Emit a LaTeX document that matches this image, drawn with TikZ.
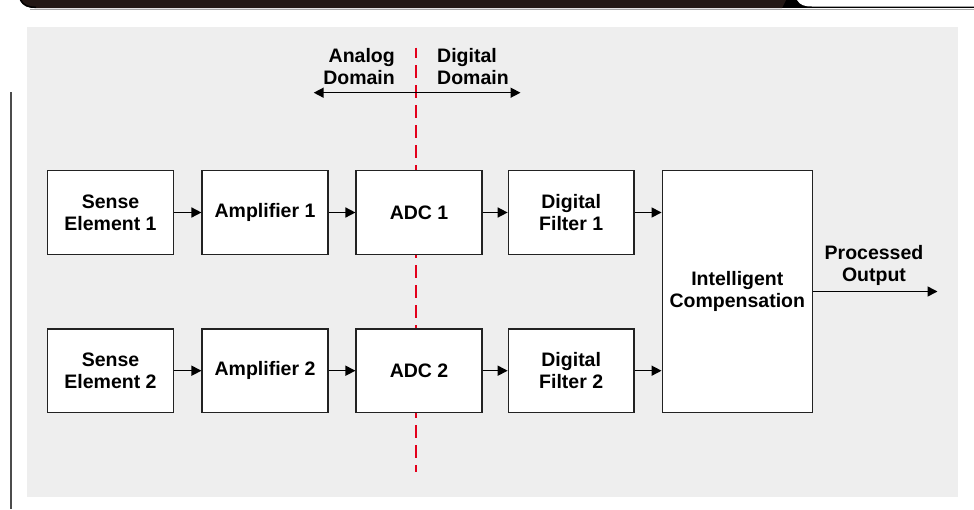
\documentclass[tikz,border=0pt]{standalone}
\usepackage{fontspec}
\setmainfont{Liberation Sans}
\usetikzlibrary{arrows.meta}
\definecolor{bgray}{HTML}{EEEEEE}
\definecolor{topbar}{HTML}{231815}
\definecolor{redline}{HTML}{E3001B}
\definecolor{boxline}{HTML}{222222}
\begin{document}
\begin{tikzpicture}[x=1pt,y=-1pt,
  txt/.style={font=\fontsize{19.5}{22}\selectfont\bfseries},
  blk/.style={txt,draw=boxline,line width=1.5pt,fill=white,minimum width=125.6pt,minimum height=83.6pt,inner sep=0pt,align=center},
  lbl/.style={txt,inner sep=0pt},
  arr/.style={line width=1.5pt,-{Triangle[length=10pt,width=10pt]}},
  darr/.style={line width=1.5pt,{Triangle[length=10pt,width=10pt]}-{Triangle[length=10pt,width=10pt]}}]
\useasboundingbox (0,0) rectangle (974,509);
% page decoration
\fill[black] (778,0) -- (974,0) -- (974,8) -- (778,8) -- cycle;
\fill[topbar] (20,0) .. controls (23,6) and (28,8) .. (36,8) -- (782,8) -- (786,0) -- cycle;
\draw[black,line width=1.5pt] (20.5,0) .. controls (23.5,5.5) and (28,7.3) .. (36,7.3);
\fill[white] (797,0) .. controls (800,5) and (804,6.5) .. (812,6.5) -- (974,6.5) -- (974,0) -- cycle;
\draw[gray!70,line width=0.8pt] (30,9.5) -- (974,9.5);
\draw[black!70,line width=2pt] (11,92) -- (11,509);
% background
\fill[bgray] (26.5,26.7) rectangle (958,496.7);
% domain divider
\coordinate (dtop) at (416,47.7);
\coordinate (dbot) at (416,472);
\draw[redline,line width=2pt,dash pattern=on 13pt off 7pt,dash phase=2.3pt] (dtop) -- (dbot);
\node[lbl,align=right,anchor=east] (analog) at (395,67) {Analog\\Domain};
\node[lbl,align=left,anchor=west] (digital) at (437,67) {Digital\\Domain};
\coordinate (dl) at (313.7,92.7);
\coordinate (dr) at (520.5,92.7);
\draw[darr] (dl) -- (dr);
% blocks
\node[blk] (se1) at (110.5,212.5) {Sense\\Element 1};
\node[blk] (amp1) at (265,212.5) {Amplifier 1};
\node[blk] (adc1) at (419,212.5) {ADC 1};
\node[blk] (df1) at (571.2,212.5) {Digital\\Filter 1};
\node[blk] (se2) at (110.5,370.7) {Sense\\Element 2};
\node[blk] (amp2) at (265,370.7) {Amplifier 2};
\node[blk] (adc2) at (419,370.7) {ADC 2};
\node[blk] (df2) at (571.2,370.7) {Digital\\Filter 2};
\node[blk,minimum width=150pt,minimum height=241.6pt] (ic) at (737.3,291.5) {Intelligent\\Compensation};
\coordinate (out) at (937.5,291.5);
\node[lbl,align=center] (po) at (874,265) {Processed\\Output};
% connectors
\draw[arr] (se1) -- (amp1);
\draw[arr] (amp1) -- (adc1);
\draw[arr] (adc1) -- (df1);
\draw[arr] (df1) -- (df1 -| ic.west);
\draw[arr] (se2) -- (amp2);
\draw[arr] (amp2) -- (adc2);
\draw[arr] (adc2) -- (df2);
\draw[arr] (df2) -- (df2 -| ic.west);
\draw[arr] (ic) -- (out);
\end{tikzpicture}
\end{document}
